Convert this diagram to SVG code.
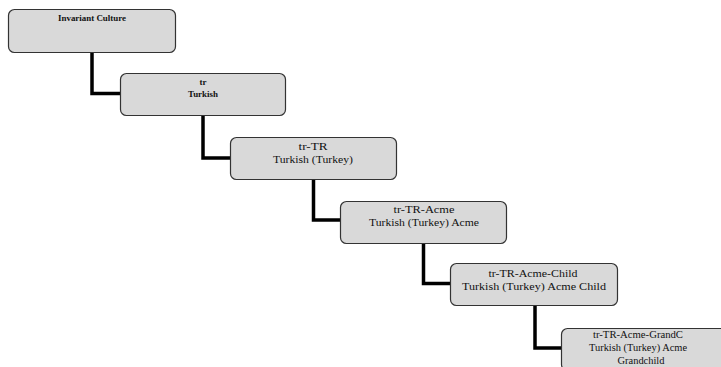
<svg xmlns="http://www.w3.org/2000/svg" width="721" height="367" viewBox="0 0 721 367">
  <style>
    .box { fill: #d9d9d9; stroke: #333333; stroke-width: 1.2; }
    .t { font-family: "Liberation Serif", "Times New Roman", serif; font-size: 11px; fill: #111111; text-anchor: middle; }
    .s { font-family: "Liberation Serif", "Times New Roman", serif; font-size: 9px; font-weight: bold; fill: #111111; text-anchor: middle; }
    .conn { fill: none; stroke: #000000; stroke-width: 3.5; stroke-linejoin: miter; }
  </style>
  <rect width="721" height="367" fill="#ffffff"/>
  <g id="connectors">
    <path class="conn" d="M92,52 V93.5 H120"/>
    <path class="conn" d="M203,115 V158 H230"/>
    <path class="conn" d="M313.5,179 V220 H340"/>
    <path class="conn" d="M423.5,243 V283.5 H450"/>
    <path class="conn" d="M535,305 V348 H561"/>
  </g>
  <g id="node-invariant">
    <rect class="box" x="8.5" y="9.5" width="167" height="43" rx="6"/>
    <text class="s" x="92" y="20.5" textLength="68" lengthAdjust="spacingAndGlyphs">Invariant Culture</text>
  </g>
  <g id="node-tr">
    <rect class="box" x="120.5" y="73.5" width="165" height="42" rx="6"/>
    <text class="s" x="203" y="85">tr</text>
    <text class="s" x="203" y="96.5" textLength="30" lengthAdjust="spacingAndGlyphs">Turkish</text>
  </g>
  <g id="node-tr-TR">
    <rect class="box" x="230.5" y="137.5" width="166" height="42" rx="6"/>
    <text class="t" x="313" y="150" textLength="29" lengthAdjust="spacingAndGlyphs">tr-TR</text>
    <text class="t" x="313" y="163" textLength="80" lengthAdjust="spacingAndGlyphs">Turkish (Turkey)</text>
  </g>
  <g id="node-tr-TR-Acme">
    <rect class="box" x="340.5" y="201.5" width="166" height="42" rx="6"/>
    <text class="t" x="424" y="213" textLength="61" lengthAdjust="spacingAndGlyphs">tr-TR-Acme</text>
    <text class="t" x="424" y="226" textLength="110" lengthAdjust="spacingAndGlyphs">Turkish (Turkey) Acme</text>
  </g>
  <g id="node-tr-TR-Acme-Child">
    <rect class="box" x="450.5" y="263.5" width="167" height="42" rx="6"/>
    <text class="t" x="533" y="277" textLength="89" lengthAdjust="spacingAndGlyphs">tr-TR-Acme-Child</text>
    <text class="t" x="534" y="290" textLength="144" lengthAdjust="spacingAndGlyphs">Turkish (Turkey) Acme Child</text>
  </g>
  <g id="node-tr-TR-Acme-GrandChild">
    <rect class="box" x="561.5" y="328.5" width="166" height="42" rx="6"/>
    <text class="t" x="638" y="338" textLength="90" lengthAdjust="spacingAndGlyphs">tr-TR-Acme-GrandC</text>
    <text class="t" x="638" y="351" textLength="98" lengthAdjust="spacingAndGlyphs">Turkish (Turkey) Acme</text>
    <text class="t" x="641" y="364" textLength="47" lengthAdjust="spacingAndGlyphs">Grandchild</text>
  </g>
</svg>
